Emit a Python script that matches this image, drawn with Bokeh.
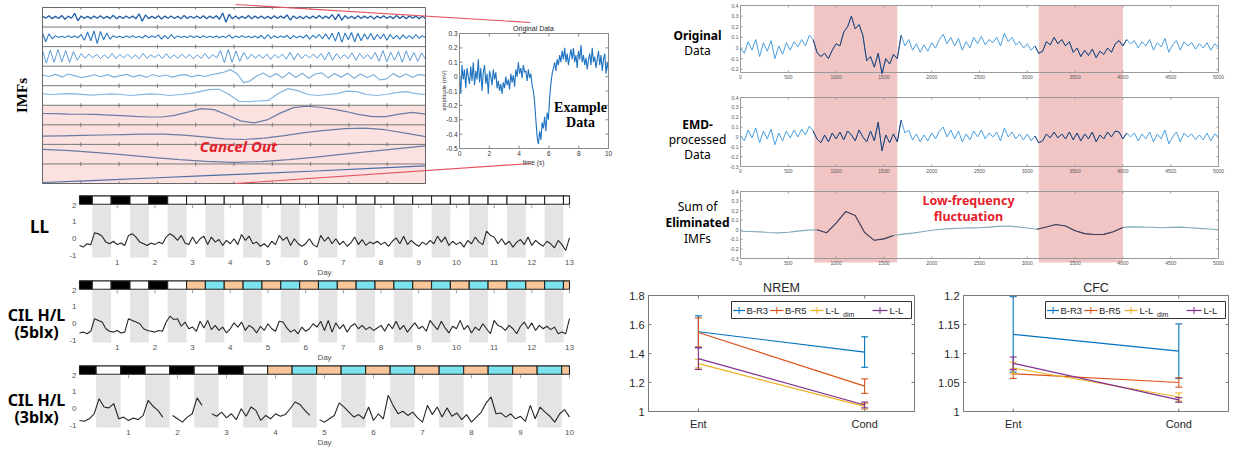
import numpy as np
from bokeh.plotting import figure
from bokeh.models import Range1d, Label, ColumnDataSource
from bokeh.transform import dodge
from bokeh.core.properties import value
from bokeh.embed import file_html
from bokeh.resources import INLINE

NAN = float("nan")

# ---------------------------------------------------------------- data
imf_r1 = [0.06,-0.05,0.08,-0.07,0.05,-0.06,0.09,-0.1,0.06,-0.05,0.2,-0.18,0.07,-0.06,0.05,-0.07,0.06,-0.05,0.08,-0.06,
          0.05,-0.07,0.1,-0.08,0.05,-0.06,0.07,-0.05,0.06,-0.08,0.18,-0.2,0.12,-0.07,0.05,-0.06,0.08,-0.09,0.06,-0.05,
          0.07,-0.06,0.05,-0.08,0.09,-0.06,0.05,-0.05,0.07,-0.06,0.08,-0.07,0.06,-0.05,0.08,-0.1,0.22,-0.25,0.15,-0.08,
          0.06,-0.07,0.05,-0.06,0.09,-0.08,0.06,-0.05,0.07,-0.06,0.05,-0.07,0.08,-0.06,0.06,-0.05,0.12,-0.14,0.07,-0.06,
          0.05,-0.08,0.07,-0.06,0.06,-0.05,0.09,-0.07,0.06,-0.06,0.14,-0.12,0.16,-0.15,0.08,-0.06,0.05,-0.07,0.08,-0.06,
          0.06,-0.05,0.07,-0.09,0.06,-0.05,0.08,-0.06,0.05,-0.07,0.09,-0.06,0.06,-0.08,0.07,-0.05,0.06,-0.07,0.05,-0.06]
imf_r2 = [0.2,-0.25,0.15,-0.1,0.05,-0.04,0.03,-0.04,0.05,-0.03,0.04,-0.05,0.12,-0.18,0.25,-0.2,0.3,-0.35,0.28,-0.15,
          0.2,-0.12,0.06,-0.04,0.03,-0.05,0.04,-0.03,0.05,-0.04,0.03,-0.06,0.08,-0.05,0.04,-0.03,0.1,-0.12,0.08,-0.1,
          0.12,-0.08,0.05,-0.04,0.03,-0.04,0.05,-0.03,0.04,-0.05,0.06,-0.04,0.03,-0.03,0.04,-0.05,0.03,-0.04,0.1,-0.08,
          0.04,-0.03,0.05,-0.04,0.03,-0.05,0.04,-0.06,0.08,-0.1,0.12,-0.08,0.06,-0.05,0.04,-0.03,0.08,-0.1,0.06,-0.05,
          0.04,-0.06,0.1,-0.12,0.08,-0.05,0.12,-0.1,0.15,-0.12,0.18,-0.22,0.25,-0.28,0.2,-0.15,0.22,-0.25,0.18,-0.2,
          0.15,-0.12,0.18,-0.15,0.12,-0.1,0.14,-0.18,0.12,-0.1,0.08,-0.12,0.1,-0.08,0.06,-0.1,0.12,-0.08,0.06,-0.05]
imf_r3 = [0.3,-0.35,0.32,-0.3,0.35,-0.28,0.3,-0.32,0.25,-0.2,0.15,-0.1,0.12,-0.08,0.1,-0.12,0.08,-0.1,0.15,-0.12,
          0.1,-0.08,0.12,-0.1,0.08,-0.12,0.15,-0.1,0.08,-0.06,0.1,-0.12,0.14,-0.1,0.08,-0.1,0.12,-0.08,0.1,-0.12,
          0.08,-0.1,0.15,-0.12,0.1,-0.08,0.3,-0.32,0.35,-0.3,0.28,-0.25,0.2,-0.15,0.12,-0.1,0.08,-0.1,0.12,-0.15,
          0.1,-0.08,0.12,-0.14,0.2,-0.18,0.15,-0.12,0.1,-0.08,0.12,-0.1,0.15,-0.18,0.22,-0.2,0.15,-0.12,0.1,-0.12,
          0.18,-0.2,0.15,-0.12,0.1,-0.14,0.2,-0.25,0.3,-0.28,0.22,-0.2,0.25,-0.3,0.28,-0.22,0.2,-0.25,0.18,-0.15]
imf_r4 = [0.05,-0.03,0.08,-0.05,0.1,0.0,-0.08,-0.02,0.06,-0.04,0.07,-0.06,0.02,0.08,-0.05,0.04,-0.07,0.06,-0.03,0.05,
          -0.06,0.03,0.07,-0.05,0.04,-0.03,0.06,0.12,0.2,0.32,0.1,-0.35,-0.25,0.0,0.15,-0.05,0.12,-0.1,0.18,-0.08,
          0.14,-0.12,0.1,0.16,-0.1,0.12,-0.06,0.14,-0.12,0.1,-0.08,0.06,-0.2,-0.15,0.12,-0.06,0.1,-0.08,0.08,0.02]
imf_r5 = [0.08,0.05,0.08,0.1,0.06,0.02,0.05,0.08,0.05,0.0,0.04,0.08,0.05,0.0,0.05,0.1,0.2,0.3,0.32,0.05,
          -0.3,-0.32,-0.28,-0.25,0.1,0.35,0.25,0.05,0.0,0.05,0.1,0.22,0.2,0.05,0.0,0.05,0.15,0.2,0.1,0.05]
imf_r6 = [0.08,0.07,0.05,0.04,0.03,0.0,-0.03,-0.07,-0.1,-0.1,-0.02,0.15,0.33,0.28,0.0,-0.3,-0.4,-0.25,0.1,0.38,
          0.45,0.4,0.3,0.18,0.02,-0.08,-0.08,0.05,0.14,0.05]
imf_r7 = [-0.08,-0.06,-0.04,-0.02,0.0,0.02,0.02,-0.03,-0.12,-0.22,-0.25,-0.18,-0.05,0.1,0.22,0.31,0.33,0.25,0.08,-0.1]
imf_r8 = [0.25,0.18,0.08,-0.04,-0.16,-0.28,-0.37,-0.42,-0.38,-0.28,-0.15,0.0,0.14,0.28,0.42]
imf_r9 = [-0.45,-0.34,-0.22,-0.1,0.02,0.14,0.27,0.4]
imf_rows = [imf_r1, imf_r2, imf_r3, imf_r4, imf_r5, imf_r6, imf_r7, imf_r8, imf_r9]
imf_colors = ["#1d5ea8", "#2a78c0", "#5b9bd6", "#7fb1de", "#86b6e0",
              "#6b7ca3", "#6b7ca3", "#6b7ca3", "#4f6fa6"]
imf_widths = [1.3, 1.1, 1.0, 1.2, 1.2, 1.2, 1.2, 1.2, 1.2]

inset_amp = [0.02,-0.12,0.08,-0.02,0.05,-0.08,0.06,0.0,-0.05,0.07,-0.03,0.1,-0.06,0.04,-0.02,0.12,-0.04,0.06,-0.1,0.03,
             0.08,-0.05,0.02,-0.12,0.04,0.0,-0.06,0.05,-0.02,0.03,-0.08,-0.03,-0.1,-0.05,-0.12,-0.04,-0.08,0.0,-0.06,-0.02,
             -0.09,0.02,-0.04,0.01,-0.07,0.05,0.0,0.1,0.02,0.06,-0.01,0.08,0.03,0.04,-0.03,0.05,-0.01,0.02,-0.06,-0.1,
             -0.18,-0.3,-0.42,-0.47,-0.38,-0.44,-0.32,-0.36,-0.28,-0.38,-0.25,-0.3,-0.15,-0.05,0.02,0.06,0.1,0.04,0.12,0.08,
             0.15,0.1,0.18,0.12,0.2,0.1,0.16,0.08,0.14,0.19,0.12,0.2,0.1,0.15,0.06,0.18,0.12,0.22,0.1,0.15,
             0.08,0.13,0.05,0.12,0.16,0.08,0.2,0.1,0.14,0.06,0.12,0.18,0.08,0.15,0.04,0.12,0.16,0.02,0.1,0.04]

ll_vals = [-0.4,-0.5,-0.3,-0.35,0.35,0.3,0.15,-0.2,-0.3,-0.15,
           -0.35,-0.25,-0.4,0.2,0.3,0.1,-0.2,-0.3,-0.4,-0.25,
           -0.35,-0.2,-0.3,0.1,0.3,0.15,-0.1,0.2,-0.25,-0.35,
           0.1,-0.3,0.0,0.15,-0.35,0.1,-0.2,-0.05,-0.4,-0.1,
           -0.3,0.0,-0.35,0.25,-0.1,0.15,-0.3,-0.2,-0.45,-0.3,
           -0.5,-0.15,-0.35,0.2,-0.1,0.1,-0.4,0.0,-0.3,-0.45,
           -0.3,0.0,-0.35,-0.5,0.2,-0.15,0.1,-0.3,0.0,-0.35,
           -0.15,-0.45,-0.25,0.1,-0.35,-0.05,-0.4,-0.2,-0.3,-0.15,
           -0.35,-0.2,-0.45,-0.15,0.05,-0.3,0.15,-0.35,-0.1,-0.3,
           -0.45,-0.2,-0.35,-0.1,-0.3,0.15,-0.2,0.1,-0.4,-0.15,
           -0.35,-0.2,-0.5,-0.1,-0.3,0.1,-0.2,-0.35,0.45,0.2,
           0.1,-0.3,0.0,-0.35,-0.15,-0.5,-0.2,-0.05,-0.35,0.1,
           -0.4,-0.1,-0.3,-0.45,-0.15,-0.3,-0.55,-0.1,-0.35,-0.7,
           0.05]
cil5_vals = [-0.55,-0.5,-0.6,-0.45,0.3,0.2,0.1,-0.3,-0.45,-0.5,
             -0.4,-0.55,-0.5,0.3,0.2,0.1,0.0,-0.3,-0.4,-0.45,
             -0.5,-0.4,-0.45,0.1,0.45,0.25,0.3,-0.15,0.1,-0.3,
             -0.2,-0.45,0.15,-0.25,0.2,-0.35,-0.1,-0.4,-0.2,-0.55,
             -0.3,0.05,-0.2,0.1,-0.4,-0.1,-0.25,-0.55,-0.15,-0.4,
             0.0,-0.3,-0.45,0.15,0.1,-0.25,-0.5,-0.35,-0.6,-0.2,
             -0.45,-0.3,0.0,-0.2,0.15,-0.4,0.2,-0.5,0.05,-0.3,
             -0.05,-0.5,-0.15,0.0,-0.3,-0.1,-0.35,-0.2,-0.4,-0.25,
             -0.1,-0.45,0.0,-0.3,0.15,-0.35,-0.1,-0.5,-0.2,0.05,
             -0.3,-0.15,-0.45,0.2,-0.1,-0.35,0.15,-0.25,-0.55,-0.15,
             -0.3,0.2,-0.35,-0.1,-0.55,-0.2,-0.4,0.0,-0.3,-0.6,
             0.2,-0.1,-0.2,-0.4,-0.1,-0.3,-0.6,-0.15,0.1,-0.3,
             0.05,-0.4,-0.1,-0.3,-0.15,-0.35,-0.2,-0.6,-0.5,-0.6,
             0.3]
cil3_vals = [-0.7,-0.75,-0.6,-0.3,0.6,0.1,0.05,0.3,-0.6,-0.5,
             -0.7,-0.55,-0.65,-0.4,0.5,0.15,-0.1,-0.5,NAN,-0.4,
             -0.6,-0.8,-0.5,-0.3,0.65,0.2,NAN,-0.3,-0.45,-0.2,
             -0.55,-0.3,-0.65,0.0,-0.45,0.1,-0.1,-0.7,-0.4,-0.6,
             -0.3,-0.45,-0.35,0.0,0.4,0.25,-0.1,-0.4,NAN,-0.65,
             -0.8,-0.6,-0.4,0.35,0.1,-0.2,-0.5,-0.35,-0.6,0.1,
             -0.7,-0.3,-0.6,0.8,0.2,-0.3,-0.15,-0.4,-0.2,-0.55,
             -0.8,0.2,-0.35,0.1,-0.5,0.05,-0.45,-0.25,-0.65,-0.35,
             -0.8,-0.5,-0.2,0.35,0.7,-0.3,-0.25,-0.5,-0.3,-0.6,
             -0.45,-0.75,0.2,-0.6,0.1,-0.2,-0.45,-0.8,-0.3,-0.05,
             -0.5]
ll_phases = "DLDLD" + "L" * 22
cil5_phases = "DLDLDL" + "OC" * 10 + "O"
cil3_phases = "DLDLDLDL" + "OC" * 6 + "O"
phase_colors = {"D": "#000000", "L": "#ffffff", "O": "#F9C69A", "C": "#7AE3EF"}

orig_vals = [0.0,-0.05,0.06,-0.02,0.08,-0.08,0.05,-0.03,0.07,-0.1,
             0.02,-0.06,0.05,-0.02,0.06,0.01,0.08,0.02,0.12,0.08,
             -0.04,-0.08,-0.05,-0.1,-0.02,0.04,0.02,0.15,0.2,0.3,
             0.18,0.22,0.12,-0.12,-0.08,-0.18,-0.05,-0.24,-0.1,-0.15,
             -0.06,-0.1,0.12,0.02,0.08,-0.02,0.04,-0.04,0.03,-0.03,
             0.05,0.0,0.08,0.13,0.04,0.1,0.02,0.09,-0.02,0.06,
             0.0,0.1,0.04,0.11,0.03,0.08,0.05,0.1,0.02,0.14,
             0.06,0.1,0.03,0.06,0.0,0.04,-0.02,0.02,-0.05,-0.03,
             0.06,0.03,0.1,0.04,0.08,0.02,0.06,-0.04,0.0,-0.08,
             -0.02,-0.07,-0.01,-0.09,-0.03,-0.06,0.0,-0.04,0.04,0.07,
             0.02,0.08,0.04,0.07,0.0,0.06,0.02,0.08,-0.02,0.05,
             0.01,0.09,-0.04,0.03,0.07,-0.02,0.06,0.02,0.05,-0.01,
             0.04,0.0,0.05,-0.02,0.04,0.01]
emd_vals = [0.01,-0.04,0.07,-0.01,0.09,-0.06,0.06,-0.02,0.08,-0.08,
            0.04,-0.04,0.06,-0.01,0.07,0.0,0.08,0.02,0.11,0.06,
            -0.02,-0.06,0.02,-0.05,0.04,-0.02,0.05,-0.03,0.06,0.02,
            -0.04,0.07,0.0,-0.05,0.06,-0.04,0.15,-0.14,0.02,-0.06,
            0.03,-0.05,0.17,0.04,0.07,-0.03,0.03,-0.05,0.02,-0.04,
            0.04,-0.02,0.06,0.1,0.0,0.07,-0.02,0.06,-0.05,0.03,
            -0.03,0.06,0.0,0.07,-0.02,0.04,0.0,0.05,-0.04,0.09,
            0.0,0.05,-0.02,0.03,-0.03,0.03,-0.04,0.01,-0.06,-0.04,
            0.03,-0.01,0.05,-0.01,0.03,-0.02,0.05,-0.03,0.04,-0.04,
            0.03,-0.02,0.05,-0.05,0.02,-0.02,0.05,0.0,0.06,0.05,
            -0.02,0.04,0.0,0.04,-0.04,0.03,-0.02,0.05,-0.05,0.03,
            -0.02,0.07,-0.07,0.0,0.05,-0.05,0.04,0.0,0.03,-0.03,
            0.02,-0.03,0.04,-0.04,0.03,0.0]
sum_x = list(range(0, 5001, 100))
sum_vals = [-0.015,-0.018,-0.022,-0.028,-0.032,-0.026,-0.014,-0.004,0.0,-0.032,
            0.07,0.19,0.15,-0.03,-0.11,-0.095,-0.06,-0.045,-0.035,-0.02,
            -0.005,0.005,0.012,0.016,0.02,0.022,0.028,0.036,0.04,0.03,
            0.018,0.005,0.03,0.055,0.04,-0.01,-0.04,-0.05,-0.048,-0.02,
            0.025,0.03,0.028,0.026,0.022,0.025,0.028,0.022,0.015,0.008,
            0.0]
pink_start = [770, 3120]
pink_end = [1640, 4000]

conds = [1, 2]                       # Ent, Cond
cond_labels = ["Ent", "Cond"]
series_names = ["B-R3", "B-R5", "L-L", "L-L"]
series_colors = ["#0072BD", "#D95319", "#EDB120", "#7E2F8E"]
nrem_mean = [[1.55, 1.41], [1.545, 1.175], [1.33, 1.035], [1.365, 1.045]]
nrem_err = [[0.11, 0.105], [0.10, 0.05], [0.03, 0.02], [0.075, 0.02]]
cfc_mean = [[1.133, 1.104], [1.065, 1.05], [1.075, 1.025], [1.083, 1.02]]
cfc_err = [[0.065, 0.047], [0.008, 0.008], [0.01, 0.007], [0.011, 0.004]]

# ---------------------------------------------------------------- canvas
X0, Y0, X1, Y1 = 0, 0, 1236, 452          # page extent of the single canvas
p = figure(width=X1 - X0, height=Y1 - Y0, x_range=Range1d(X0, X1), y_range=Range1d(Y1, Y0),
           min_border=0, min_border_left=0, min_border_right=0, min_border_top=0,
           min_border_bottom=0, x_axis_type=None, y_axis_type=None,
           output_backend="svg", toolbar_location=None)
p.outline_line_color = None
p.background_fill_color = "white"
p.border_fill_color = "white"

SANS = "Liberation Sans"


def fmt(t):
    return f"{t:g}"


class Sub:
    """A panel: its own data ranges mapped onto a box of the canvas."""
    def __init__(self, name, frame, xr, yr):
        fx0, fy0, fx1, fy1 = frame
        self.frame, self.xr, self.yr = frame, xr, yr
        self.sx = (xr[1] - xr[0]) / (fx1 - fx0)
        self.sy = (yr[1] - yr[0]) / (fy1 - fy0)
        p.extra_x_ranges[name] = Range1d(xr[0] - (fx0 - X0) * self.sx, xr[1] + (X1 - fx1) * self.sx)
        p.extra_y_ranges[name] = Range1d(yr[0] - (Y1 - fy1) * self.sy, yr[1] + (fy0 - Y0) * self.sy)
        self.kw = dict(x_range_name=name, y_range_name=name)

    def box(self, color, width=1.0):
        p.quad(left=self.xr[0], right=self.xr[1], bottom=self.yr[0], top=self.yr[1],
               fill_color=None, line_color=color, line_width=width, **self.kw)

    def yticks(self, ticks, size, color, standoff, tick_len=0, tick_color=None, both=False, labels=True):
        n = len(ticks)
        x0, x1 = self.xr
        if labels:
            p.text(x=[x0 - standoff * self.sx] * n, y=list(ticks), text=[fmt(t) for t in ticks],
                   text_font=value(SANS), text_font_size=value(f"{size}px"), text_color=color,
                   text_align="right", text_baseline="middle", **self.kw)
        if tick_len:
            p.segment(x0=[x0] * n, y0=list(ticks), x1=[x0 + tick_len * self.sx] * n, y1=list(ticks),
                      line_color=tick_color, line_width=1, **self.kw)
            if both:
                p.segment(x0=[x1] * n, y0=list(ticks), x1=[x1 - tick_len * self.sx] * n,
                          y1=list(ticks), line_color=tick_color, line_width=1, **self.kw)

    def xticks(self, ticks, size, color, standoff, tick_len=0, tick_color=None, both=False, texts=None):
        n = len(ticks)
        y0, y1 = self.yr
        p.text(x=list(ticks), y=[y0 - standoff * self.sy] * n,
               text=texts if texts else [fmt(t) for t in ticks],
               text_font=value(SANS), text_font_size=value(f"{size}px"), text_color=color,
               text_align="center", text_baseline="top", **self.kw)
        if tick_len:
            p.segment(x0=list(ticks), y0=[y0] * n, x1=list(ticks), y1=[y0 + tick_len * self.sy] * n,
                      line_color=tick_color, line_width=1, **self.kw)
            if both:
                p.segment(x0=list(ticks), y0=[y1] * n, x1=list(ticks), y1=[y1 - tick_len * self.sy] * n,
                          line_color=tick_color, line_width=1, **self.kw)


def T(x, y, text, size, color="#222222", style="normal", font=SANS, align="center",
      baseline="middle", angle=0.0):
    p.add_layout(Label(x=x, y=y, text=text, text_font=font, text_font_size=f"{size}px",
                       text_color=color, text_font_style=style, text_align=align,
                       text_baseline=baseline, angle=angle))


# ---------------------------------------------------------------- IMF block
imf = Sub("imf", (42, 7, 425, 183), (0, 10), (0, 9))
p.quad(left=0, right=10, bottom=0, top=4, fill_color="#FCE1E1", line_color=None, **imf.kw)
p.segment(x0=[0] * 8, y0=list(range(1, 9)), x1=[10] * 8, y1=list(range(1, 9)),
          line_color="#777777", line_width=1, **imf.kw)
tk_x, tk_y0, tk_y1 = [], [], []
for k in range(0, 10):
    for xx in range(1, 10):
        if k < 9:
            tk_x.append(xx); tk_y0.append(k); tk_y1.append(k + 2 * imf.sy)
        if k > 0:
            tk_x.append(xx); tk_y0.append(k); tk_y1.append(k - 2 * imf.sy)
p.segment(x0=tk_x, y0=tk_y0, x1=tk_x, y1=tk_y1, line_color="#777777", line_width=1, **imf.kw)
for k, (vals, col, w) in enumerate(zip(imf_rows, imf_colors, imf_widths)):
    v = np.asarray(vals, float)
    src = ColumnDataSource(dict(t=np.linspace(0, 10, len(v)), v=v))
    p.line("t", dodge("v", 8.5 - k), source=src, line_color=col, line_width=w, **imf.kw)
imf.box("#666666")
T(238, 145, "Cancel Out", 15, color="#E5202A", style="bold italic", font="Noto Sans")
T(21, 95, "IMFs", 15, color="black", style="bold", font="Liberation Serif", angle=np.pi / 2)

# ---------------------------------------------------------------- inset
ins = Sub("ins", (459, 33, 608, 148), (0, 10), (-0.5, 0.3))
ia = np.asarray(inset_amp, float)
p.line(np.linspace(0, 10, len(ia)), ia, line_color="#1f73c0", line_width=1.1, **ins.kw)
ins.box("#8a8a8a")
ins.yticks([-0.5, -0.4, -0.3, -0.2, -0.1, 0, 0.1, 0.2, 0.3], 6.5, "#333333", 2,
           tick_len=3, tick_color="#8a8a8a", both=True)
ins.xticks([0, 2, 4, 6, 8, 10], 6.5, "#333333", 2, tick_len=3, tick_color="#8a8a8a", both=True)
T(533, 28, "Original Data", 7, color="#222222")
T(443, 90, "amplitude (mV)", 6, color="#333333", angle=np.pi / 2)
T(533, 162, "time (s)", 6.5, color="#333333")
T(580, 107, "Example", 14, color="black", style="bold", font="Liberation Serif")
T(580, 122, "Data", 14, color="black", style="bold", font="Liberation Serif")
p.line([235, 530], [4, 22], line_color="#E2545E", line_width=1.2)
p.line([235, 530], [183, 163], line_color="#E2545E", line_width=1.2)


# ---------------------------------------------------------------- day panels
def day_panel(name, frame, ndays, phases, vals, names):
    s = Sub(name, frame, (0, ndays), (-1.12, 2.58))
    edges = [0.0] + [0.34 + 0.5 * i for i in range(len(phases) - 1)] + [float(ndays)]
    gl = [edges[i] for i in range(1, len(phases), 2)]
    gr = [edges[i + 1] for i in range(1, len(phases), 2)]
    p.quad(left=gl, right=gr, bottom=-1.12, top=2.0, fill_color="#E4E4E4", line_color=None, **s.kw)
    p.quad(left=edges[:-1], right=edges[1:], bottom=2.06, top=2.56,
           fill_color=[phase_colors[c] for c in phases], line_color="#222222",
           line_width=1.1, **s.kw)
    days = list(range(1, ndays + 1))
    p.segment(x0=days, y0=[2.0] * ndays, x1=days, y1=[2.0 - 3 * s.sy] * ndays,
              line_color="#999999", line_width=1, **s.kw)
    v = np.asarray(vals, float)
    p.line(np.linspace(0, ndays, len(v)), v, line_color="#262626", line_width=1.1, **s.kw)
    s.yticks([-1, 0, 1, 2], 8, "#555555", 3)
    s.xticks(days, 8, "#555555", 2)
    fx0, fy0, fx1, fy1 = frame
    T((fx0 + fx1) / 2, fy1 + 15, "Day", 8, color="#555555")
    for (txt, px, py, sz) in names:
        T(px, fy0 + py, txt, sz, color="black", style="bold", font="Noto Sans")


day_panel("ll", (79, 195, 569, 257), 13, ll_phases, ll_vals, [("LL", 39, 31, 17)])
day_panel("c5", (79, 280, 569, 342), 13, cil5_phases, cil5_vals,
          [("CIL H/L", 36, 34, 16), ("(5blx)", 36, 51, 16)])
day_panel("c3", (79, 365, 569, 427), 10, cil3_phases, cil3_vals,
          [("CIL H/L", 36, 34, 16), ("(3blx)", 36, 51, 16)])

# ---------------------------------------------------------------- EEG panels
yt7 = [-0.3, -0.2, -0.1, 0, 0.1, 0.2, 0.3, 0.4]
orig = Sub("orig", (740, 5, 1218, 72), (0, 5000), (-0.23, 0.4))
emd = Sub("emd", (740, 97, 1218, 166), (0, 5000), (-0.3, 0.4))
sm = Sub("sum", (740, 191, 1218, 258), (0, 5000), (-0.3, 0.4))

# pink windows run through all three panels (x in data units, y in page pixels)
p.quad(left=pink_start, right=pink_end, top=5, bottom=262, fill_color="#F2C5C5",
       line_color=None, x_range_name="orig")


def trace(s, xs, ys, light, dark, w=1.0):
    xs = np.asarray(xs, float)
    ys = np.asarray(ys, float)
    p.line(xs, ys, line_color=light, line_width=w, **s.kw)
    for a, b in zip(pink_start, pink_end):
        m = (xs >= a - 40) & (xs <= b + 40)
        p.line(xs[m], ys[m], line_color=dark, line_width=w, **s.kw)


for s, yt in ((orig, yt7[1:]), (emd, yt7), (sm, yt7)):
    s.box("#9a9a9a")
    s.yticks(yt, 5, "#555555", 2, tick_len=2, tick_color="#9a9a9a", both=True)
    s.xticks(list(range(0, 5001, 500)), 5, "#555555", 2, tick_len=2, tick_color="#9a9a9a", both=True)

trace(orig, np.linspace(0, 5000, len(orig_vals)), orig_vals, "#4a9fe0", "#2b3f6e")
trace(emd, np.linspace(0, 5000, len(emd_vals)), emd_vals, "#4a9fe0", "#2b3f6e")
trace(sm, sum_x, sum_vals, "#80aab8", "#4c3a55", 1.1)

T(697, 35, "Original", 12, color="black", style="bold", font="Noto Sans")
T(697, 50, "Data", 12, color="black", font="Noto Sans")
T(697, 124, "EMD-", 12, color="black", style="bold", font="Noto Sans")
T(697, 139, "processed", 12, color="black", font="Noto Sans")
T(697, 154, "Data", 12, color="black", font="Noto Sans")
T(697, 206, "Sum of", 12, color="black", font="Noto Sans")
T(697, 222, "Eliminated", 12, color="black", style="bold", font="Noto Sans")
T(697, 238, "IMFs", 12, color="black", font="Noto Sans")
T(968, 200, "Low-frequency", 12.5, color="#E5202A", style="bold", font="Noto Sans")
T(968, 216, "fluctuation", 12.5, color="#E5202A", style="bold", font="Noto Sans")


# ---------------------------------------------------------------- error-bar panels
def err_panel(name, frame, yr, yticks, title, means, errs):
    s = Sub(name, frame, (0.7, 2.3), yr)
    for m, e, c in zip(means, errs, series_colors):
        m = np.asarray(m, float)
        e = np.asarray(e, float)
        lo, hi = list(m - e), list(m + e)
        p.line(conds, list(m), line_color=c, line_width=1.2, **s.kw)
        p.segment(x0=conds, y0=lo, x1=conds, y1=hi, line_color=c, line_width=1.1, **s.kw)
        p.scatter(x=conds + conds, y=lo + hi, marker="dash", size=7, line_color=c,
                  line_width=1.1, **s.kw)
    s.box("#7a7a7a")
    s.yticks(yticks, 11, "#262626", 4, tick_len=3, tick_color="#7a7a7a", both=True)
    s.xticks(conds, 11, "#262626", 6, tick_len=3, tick_color="#7a7a7a", both=True, texts=cond_labels)
    fx0, fy0, fx1, fy1 = frame
    T((fx0 + fx1) / 2, fy0 - 8, title, 12.5, color="#262626")
    bx = fx1 - 183
    p.quad(left=bx, right=bx + 180, top=fy0 + 6, bottom=fy0 + 23, fill_color="white",
           line_color="#333333", line_width=1)
    yc = fy0 + 15
    entries = [(1.6, 13.5, 7.6, 15.0), (38.6, 52.0, 45.3, 53.5),
               (79.0, 92.0, 85.5, 94.0), (141.0, 156.0, 148.5, 158.0)]
    for (a, b, ex, tx), nm, c in zip(entries, series_names, series_colors):
        p.line([bx + a, bx + b], [yc, yc], line_color=c, line_width=1.2)
        p.line([bx + ex, bx + ex], [yc - 3.5, yc + 3.5], line_color=c, line_width=1.0)
        T(bx + tx, yc, nm, 9.5, color="#262626", align="left")
    T(bx + 111.5, yc + 3.5, "dim", 7, color="#262626", align="left")


err_panel("nrem", (648, 295, 914, 411), (1.0, 1.8), [1.0, 1.2, 1.4, 1.6, 1.8], "NREM",
          nrem_mean, nrem_err)
err_panel("cfc", (963, 295, 1228, 411), (1.0, 1.2), [1.0, 1.05, 1.1, 1.15, 1.2], "CFC",
          cfc_mean, cfc_err)

open("out.html", "w").write(file_html(p, INLINE))
